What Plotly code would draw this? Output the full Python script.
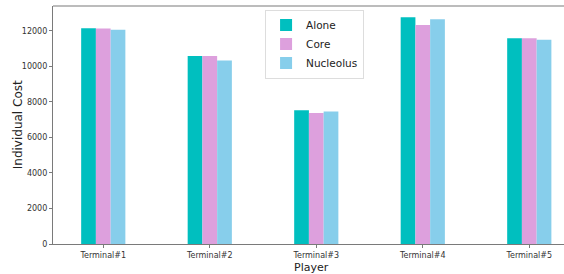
import plotly.graph_objects as go

players = ["Terminal#1", "Terminal#2", "Terminal#3", "Terminal#4", "Terminal#5"]
alone = [12135, 10575, 7530, 12755, 11570]
core = [12130, 10570, 7365, 12320, 11570]
nucleolus = [12055, 10330, 7460, 12640, 11495]

series = [("Alone", alone, "#00BFBF"), ("Core", core, "#DDA0DD"), ("Nucleolus", nucleolus, "#87CEEB")]

fig = go.Figure()
for name, vals, col in series:
    fig.add_trace(go.Bar(x=players, y=vals, name=name, marker=dict(color=col, line=dict(width=0))))

axis_common = dict(showline=True, linecolor="#7a7a7a", linewidth=1.2, ticks="outside",
                   ticklen=3, tickcolor="#7a7a7a", showgrid=False, zeroline=False,
                   automargin=False,
                   tickfont=dict(family="DejaVu Sans", size=8, color="#333"))

fig.update_layout(
    width=564, height=274,
    margin=dict(l=53, r=0, t=6, b=30, autoexpand=False),
    paper_bgcolor="white", plot_bgcolor="white",
    barmode="group", bargap=0.585, bargroupgap=0,
    font=dict(family="DejaVu Sans", color="#222"),
    xaxis=dict(range=[-0.472, 4.326], **axis_common),
    yaxis=dict(range=[0, 13390], tickvals=[0, 2000, 4000, 6000, 8000, 10000, 12000],
               tickformat="d", **axis_common),
    legend=dict(x=0.415, y=0.985, xanchor="left", yanchor="top",
                bordercolor="#dddddd", borderwidth=1, bgcolor="white",
                font=dict(size=10.5), tracegroupgap=0, itemwidth=30),
    shapes=[dict(type="line", xref="paper", yref="paper", x0=0, x1=1, y0=1, y1=1,
                 line=dict(color="#7a7a7a", width=1.2))],
    annotations=[
        dict(text="Player", xref="paper", yref="paper", x=(311 - 53) / 511, y=-0.062,
             xanchor="center", yanchor="top", showarrow=False, font=dict(size=11, color="#222")),
        dict(text="Individual Cost", xref="paper", yref="paper", x=-0.068, y=0.5,
             xanchor="center", yanchor="middle", textangle=-90, showarrow=False,
             font=dict(size=12, color="#222")),
    ],
)
fig.write_html("out.html", config={"displayModeBar": False},
               post_script="document.body.style.margin='0';document.body.style.overflow='hidden';")
